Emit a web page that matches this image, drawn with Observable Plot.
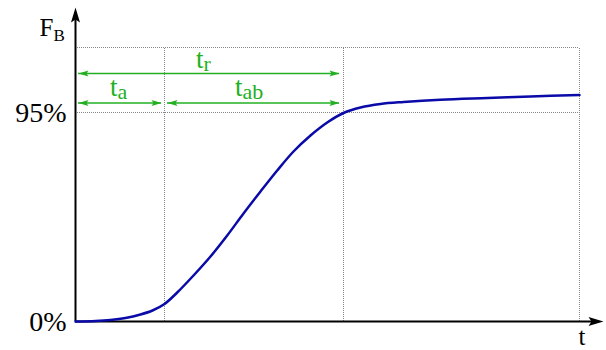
<!DOCTYPE html>
<html>
<head>
<meta charset="utf-8">
<script src="https://cdn.jsdelivr.net/npm/d3@7"></script>
<script src="https://cdn.jsdelivr.net/npm/@observablehq/plot@0.6"></script>
<style>
  html, body { margin: 0; padding: 0; background: #fff; }
  #chart { width: 606px; height: 350px; }
  #chart svg text { font-family: "Liberation Serif", "Times New Roman", serif !important; }
</style>
</head>
<body>
<div id="chart"></div>
<script>
// ---- data (schematic units: t along x, F_B along y) ----
const curveT = [0, 20, 35, 50, 65, 77, 89, 101.7, 118, 135, 151.7, 168, 185, 201.7, 218, 235, 251.7, 268, 285, 305, 328, 365, 412, 455, 504];
const curveF = [0, 0.5, 1.5, 3.5, 7, 11, 17.5, 29, 46, 65, 86, 108, 130, 151, 170, 186, 199, 208.5, 214, 217.5, 219.5, 221.8, 223.5, 225, 226.5];

const gridT = [89, 268, 504];          // t_a end, t_r end, end of time window
const gridF = [209, 274];              // 95% level, top level
const yTickValues = [0, 209];
const yTickLabels = ["0%", "95%"];

// interval arrows
const spanName  = ["t_r", "t_a", "t_ab"];
const spanStart = [3, 3, 92];
const spanEnd   = [264, 86, 264];
const spanLevel = [248, 218.5, 218.5];

// interval labels (main letter + subscript)
const labelMain = ["t", "t", "t"];
const labelSub  = ["r", "a", "ab"];
const labelT    = [128, 42, 167];
const labelF    = [254, 226, 226];

const xMax = 528, yMax = 316;

// ---- tables built from arrays ----
const curve = curveT.map((t, i) => ({t, f: curveF[i]}));
const spans = spanName.map((n, i) => ({n, x1: spanStart[i], x2: spanEnd[i], y: spanLevel[i]}));
const heads = spans.flatMap(s => [{x: s.x1, y: s.y, r: 180}, {x: s.x2, y: s.y, r: 0}]);
const labels = labelMain.map((m, i) => ({m, s: labelSub[i], x: labelT[i], y: labelF[i]}));
const ticks = yTickValues.map((v, i) => ({v, label: yTickLabels[i]}));

const green = "#22b022";
const blue = "#0a0aa8";
const serif = "Liberation Serif";

function triangle(L, W) {
  return {
    draw(ctx) {
      ctx.moveTo(0, 0);
      ctx.lineTo(-L, -W / 2);
      ctx.lineTo(-L * 0.8, 0);
      ctx.lineTo(-L, W / 2);
      ctx.closePath();
    }
  };
}

const chart = Plot.plot({
  width: 606,
  height: 350,
  marginLeft: 75,
  marginRight: 3,
  marginTop: 5,
  marginBottom: 29,
  x: {domain: [0, xMax], axis: null},
  y: {domain: [0, yMax], axis: null},
  marks: [
    // dotted grid
    Plot.ruleX(gridT, {x: d => d, y1: 0, y2: gridF[1], stroke: "#888", strokeWidth: 1, strokeDasharray: "1,1"}),
    Plot.ruleY(gridF, {y: d => d, x1: 0, x2: gridT[2], stroke: "#888", strokeWidth: 1, strokeDasharray: "1,1"}),
    // axes
    Plot.ruleY([0], {x1: 0, x2: xMax - 8, stroke: "#000", strokeWidth: 2}),
    Plot.ruleX([0], {y1: 0, y2: yMax - 10, stroke: "#000", strokeWidth: 2}),
    Plot.dot([{x: xMax, y: 0, r: 0}, {x: 0, y: yMax - 2, r: -90}], {
      x: "x", y: "y", rotate: "r", symbol: triangle(15, 9), fill: "#000", stroke: "none"
    }),
    // curve
    Plot.line(curve, {x: "t", y: "f", curve: "catmull-rom", stroke: blue, strokeWidth: 2.5}),
    // interval arrows
    Plot.ruleY(spans, {y: "y", x1: "x1", x2: "x2", stroke: green, strokeWidth: 1.5}),
    Plot.dot(heads, {x: "x", y: "y", rotate: "r", symbol: triangle(10, 6), fill: green, stroke: "none"}),
    Plot.text(labels, {x: "x", y: "y", text: "m", textAnchor: "end", lineAnchor: "bottom", fill: green, fontSize: 27, fontFamily: serif}),
    Plot.text(labels, {x: "x", y: d => d.y - 3.5, text: "s", textAnchor: "start", lineAnchor: "bottom", fill: green, fontSize: 22, fontFamily: serif}),
    // y tick labels
    Plot.text(ticks, {x: 0, y: d => d.v - 9, text: "label", textAnchor: "end", lineAnchor: "bottom", dx: -9, fill: "#000", fontSize: 28, fontFamily: serif}),
    // axis titles
    Plot.text(["F"], {x: -22, y: 286, text: d => d, textAnchor: "end", lineAnchor: "bottom", fill: "#000", fontSize: 25, fontFamily: serif}),
    Plot.text(["B"], {x: -22, y: 281, text: d => d, textAnchor: "start", lineAnchor: "bottom", fill: "#000", fontSize: 17, fontFamily: serif}),
    Plot.text(["t"], {x: 506.5, y: -23, text: d => d, textAnchor: "middle", lineAnchor: "bottom", fill: "#000", fontSize: 25, fontFamily: serif})
  ]
});
d3.select(chart).style("overflow", "visible").style("background", "#fff");
document.getElementById("chart").appendChild(chart);
</script>
</body>
</html>
